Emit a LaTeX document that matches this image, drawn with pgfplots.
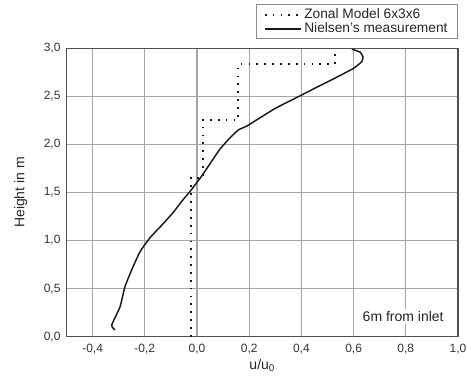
\documentclass[border=0pt]{standalone}
\usepackage{fontspec}
\setmainfont{Liberation Sans}
\usepackage{pgfplots}
\pgfplotsset{compat=1.18}
\definecolor{gridc}{RGB}{165,165,165}
\definecolor{axc}{RGB}{80,80,80}
\begin{document}
\begin{tikzpicture}
\begin{axis}[
  name=ax,
  width=293.6pt, height=216.3pt,
  scale only axis,
  xmin=-0.5, xmax=1.0, ymin=0, ymax=3.0,
  xtick={-0.4,-0.2,0,0.2,0.4,0.6,0.8,1.0},
  ytick={0,0.5,1,1.5,2,2.5,3},
  grid=major,
  major grid style={gridc, line width=0.9pt},
  axis line style={axc, line width=1.1pt},
  major tick length=0pt,
  /pgf/number format/assume math mode=true,
  /pgf/number format/.cd, use comma, fixed, fixed zerofill, precision=1,
  /pgfplots/.cd,
  tick label style={font=\fontsize{9}{10}\selectfont, text=black!80},
  xticklabel style={yshift=-2pt},
  yticklabel style={xshift=-1pt},
  label style={font=\fontsize{10.5}{12}\selectfont, text=black!85},
  xlabel={u/u\textsubscript{0}},
  ylabel={Height in m},
  xlabel style={yshift=3pt},
  ylabel style={yshift=5.5pt},
  legend style={at={(1,1.031)}, anchor=south east, draw=black!45, line width=0.7pt,
    font=\fontsize{10.3}{11}\selectfont, text=black!85, inner xsep=5.5pt, inner ysep=1pt,
    row sep=-2.5pt, cells={anchor=west}},
  legend cell align=left,
  legend image code/.code={\draw[#1] (0pt,0pt) -- (27pt,0pt);},
]
\addplot[black!90, line width=1.2pt, dash pattern=on 1.3pt off 4.6pt] coordinates {
(-0.024,0) (-0.024,1.65) (0.022,1.65) (0.022,2.255) (0.158,2.255) (0.158,2.835) (0.529,2.835) (0.529,2.94)
};
\addlegendentry{Zonal Model 6x3x6}
\addplot[black!90, line width=1.1pt, smooth, tension=0.3] coordinates {
(-0.314,0.07) (-0.327,0.12) (-0.295,0.31) (-0.276,0.52) (-0.248,0.71) (-0.218,0.885)
(-0.18,1.03) (-0.135,1.16) (-0.092,1.29) (-0.055,1.42) (-0.027,1.51) (0.015,1.66)
(0.05,1.80) (0.085,1.94) (0.12,2.05) (0.158,2.15) (0.19,2.19) (0.297,2.37)
(0.391,2.50) (0.47,2.61) (0.536,2.70) (0.599,2.79) (0.631,2.86) (0.636,2.91)
(0.625,2.96) (0.593,2.99)
};
\addlegendentry{Nielsen's measurement}
\node[fill=white, inner sep=1.5pt, font=\fontsize{10.5}{12}\selectfont, text=black!85]
  at (axis cs:0.79,0.21) {6m from inlet};
\end{axis}
\pgfresetboundingbox
\path (ax.south west) ++(-49.9pt,-36.2pt) coordinate (bl);
\path (ax.north east) ++(6.75pt,36.2pt) coordinate (tr);
\path[use as bounding box] (bl) rectangle (tr);
\end{tikzpicture}
\end{document}
